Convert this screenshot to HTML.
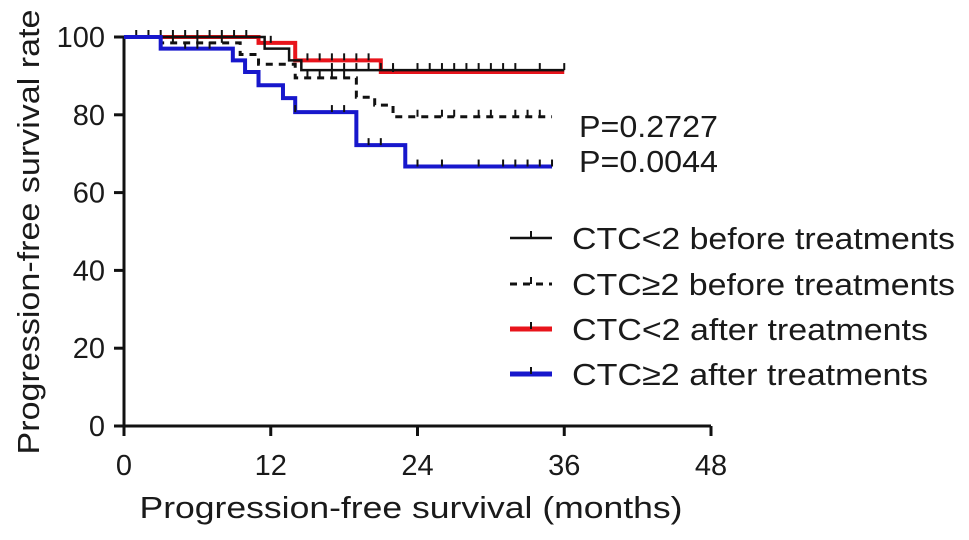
<!DOCTYPE html>
<html><head><meta charset="utf-8"><style>
html,body{margin:0;padding:0;background:#fff;}
svg text{font-family:"Liberation Sans",Arial,sans-serif;fill:#1a1a1a;}
</style></head><body>
<svg id="chart" width="969" height="535" viewBox="0 0 969 535" xmlns="http://www.w3.org/2000/svg">
<g id="axes"></g>
<g id="curves"></g>
<text x="579" y="137" font-size="31" textLength="139" lengthAdjust="spacingAndGlyphs">P=0.2727</text>
<text x="579" y="172" font-size="31" textLength="139" lengthAdjust="spacingAndGlyphs">P=0.0044</text>
<text x="411" y="518" font-size="31" text-anchor="middle" textLength="543" lengthAdjust="spacingAndGlyphs">Progression-free survival (months)</text>
<text transform="translate(39,232) rotate(-90)" font-size="31" text-anchor="middle" textLength="445" lengthAdjust="spacingAndGlyphs">Progression-free survival rate</text>
<g id="legend"></g>
</svg>
<script>
const xTicks = [0, 12, 24, 36, 48];
const yTicks = [0, 20, 40, 60, 80, 100];
const seriesNames = ["CTC<2 before treatments", "CTC\u22652 before treatments", "CTC<2 after treatments", "CTC\u22652 after treatments"];
const blackTimes = [0, 11.5, 13.5, 14.5, 36];
const blackVals = [100, 97, 94, 91.5, 91.5];
const dashTimes = [0, 3, 9.5, 11, 14, 19, 20.5, 22, 35];
const dashVals = [100, 98.5, 95.5, 93, 89.5, 84.5, 82.5, 79.5, 79.5];
const redTimes = [0, 11, 14, 21, 36];
const redVals = [100, 98.5, 94, 91, 91];
const blueTimes = [0, 3, 8.9, 9.9, 11, 13, 14, 19, 23, 35];
const blueVals = [100, 97, 94, 91, 87.6, 84.3, 80.7, 72.2, 66.7, 66.7];
const blackCens = [1,2,3,4,5,6,7,8,9,10,17,18,19,20,21,22,24,25,26,27,28,29,30,31,32,34,36];
const dashCens = [4,6,8,15,16,17,18,24,26,27,29,30,32,33,34];
const redCens = [12,15,16,17,18,19,20,22];
const blueCens = [5,6,7,14,17,18,20,21,24,26,29,31,32,33,34,35];

const NS="http://www.w3.org/2000/svg";
const X=v=>124+v*(711-124)/48;
const Y=v=>426-v*(426-37)/100;
function mk(tag,attrs,parent){const e=document.createElementNS(NS,tag);for(const k in attrs)e.setAttribute(k,attrs[k]);parent.appendChild(e);return e;}
const axes=document.getElementById('axes');
let l=mk('line',{x1:X(0),y1:Y(0),x2:X(48),y2:Y(0),stroke:'#111','stroke-width':3},axes);


l=mk('line',{x1:X(0),y1:Y(0)+1.5,x2:X(0),y2:Y(100),stroke:'#111','stroke-width':3},axes);


xTicks.forEach(t=>{
  const tk=mk('line',{x1:X(t),y1:Y(0),x2:X(t),y2:Y(0)+10,stroke:'#111','stroke-width':3},axes);
  
  
  const tx=mk('text',{x:X(t),y:475,'font-size':29,'text-anchor':'middle'},axes);tx.textContent=t;
  
  
});
yTicks.forEach(t=>{
  const tk=mk('line',{x1:X(0)-10,y1:Y(t),x2:X(0),y2:Y(t),stroke:'#111','stroke-width':3},axes);
  
  
  const tx=mk('text',{x:105,y:Y(t)+10,'font-size':29,'text-anchor':'end'},axes);tx.textContent=t;
  
  
});
function valAt(times,vals,t){let v=vals[0];for(let i=0;i<times.length;i++){if(times[i]<=t)v=vals[i];}return v;}
function drawCurve(name,times,vals,cens,color,width,dash){
  const g=document.getElementById('curves');
  let d=`M${X(times[0])},${Y(vals[0])}`;
  for(let i=1;i<times.length;i++){d+=` H${X(times[i])} V${Y(vals[i])}`;}
  const p=mk('path',{d:d,fill:'none',stroke:color,'stroke-width':width},g);
  if(dash)p.setAttribute('stroke-dasharray',dash);
  
  
  cens.forEach(t=>{
    const v=valAt(times,vals,t);
    const c=mk('line',{x1:X(t),y1:Y(v),x2:X(t),y2:Y(v)-7,stroke:'#111','stroke-width':2},g);
    
    
  });
}
drawCurve('red',redTimes,redVals,redCens,'#e8141b',4,null);
drawCurve('black-solid',blackTimes,blackVals,blackCens,'#111',2.5,null);
drawCurve('black-dashed',dashTimes,dashVals,dashCens,'#111',3,'7,6');
drawCurve('blue',blueTimes,blueVals,blueCens,'#1717cc',4,null);

const lg=document.getElementById('legend');
const lgY=[238,284,329,374];
const lgLen=[383,383,356,356];
const lgStyle=[['#111',2.5,null],['#111',3,'7,6'],['#e8141b',5,null],['#1717cc',5,null]];
seriesNames.forEach((n,i)=>{
  const ln=mk('line',{x1:510,y1:lgY[i],x2:552,y2:lgY[i],stroke:lgStyle[i][0],'stroke-width':lgStyle[i][1]},lg);
  if(lgStyle[i][2])ln.setAttribute('stroke-dasharray',lgStyle[i][2]);
  
  
  const tk=mk('line',{x1:531,y1:lgY[i],x2:531,y2:lgY[i]-7,stroke:'#111','stroke-width':2},lg);
  
  
  const tx=mk('text',{x:572,y:lgY[i]+11,'font-size':31,textLength:lgLen[i],lengthAdjust:'spacingAndGlyphs'},lg);tx.textContent=n;
  
  
});
</script>
</body></html>
